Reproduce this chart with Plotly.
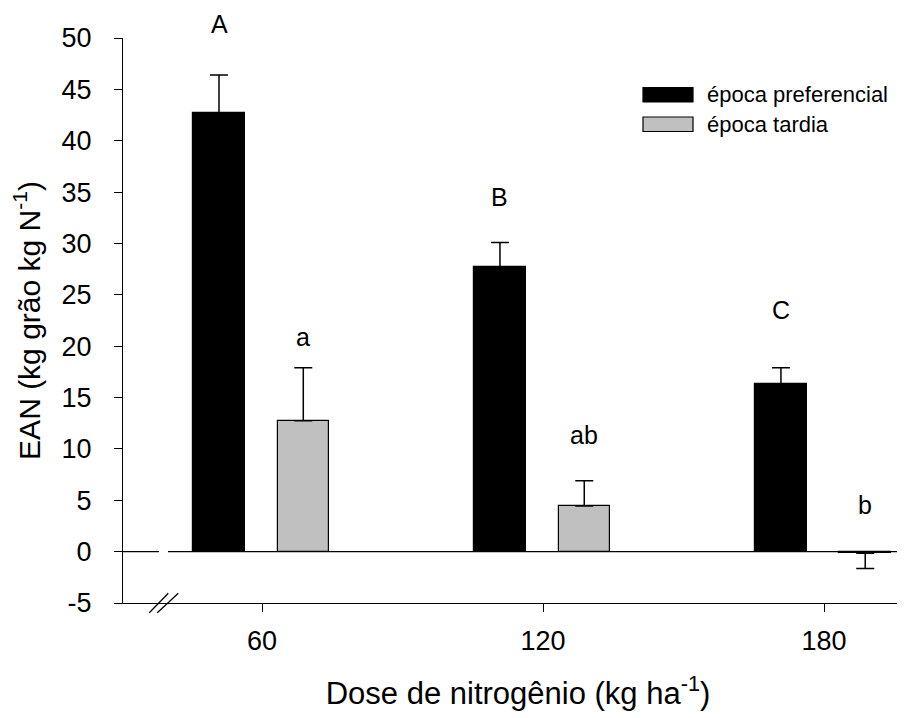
import plotly.graph_objects as go

# ---- data ----
doses = [60, 120, 180]
series_names = ["época preferencial", "época tardia"]
pref_values = [42.7, 27.7, 16.3]
pref_errors = [3.7, 2.4, 1.6]
tard_values = [12.75, 4.44, -0.15]
tard_errors = [5.15, 2.46, 1.5]
pref_letters = ["A", "B", "C"]
tard_letters = ["a", "ab", "b"]
pref_letter_y = [51.4, 34.55, 23.5]
tard_letter_y = [20.9, 11.35, 4.5]
y_ticks = [-5, 0, 5, 10, 15, 20, 25, 30, 35, 40, 45, 50]
x_ticks = [60, 120, 180]

FONT = "Liberation Sans, Arial, sans-serif"
BAR_W = 11
PREF_OFF = -14.7
TARD_OFF = 3.3
X_RANGE = [30.3, 199.0]
Y_RANGE = [-5, 50]

PAGE_OFF = 8  # body margin of the html page
W, H = 905, 718
L, R, T, B = 115, 0, 30, 123
PW, PH = W - L - R, H - T - B
SCR_L = PAGE_OFF + L          # plot left edge on screen
SCR_B = PAGE_OFF + T + PH     # plot bottom edge on screen


def px_x(px):
    return (px - SCR_L) / PW


def px_y(py):
    return (SCR_B - py) / PH


def ydom(v):
    return (v - Y_RANGE[0]) / (Y_RANGE[1] - Y_RANGE[0])


def err_arrays(vals, errs):
    plus = [e if v >= 0 else 0 for v, e in zip(vals, errs)]
    minus = [e if v < 0 else 0 for v, e in zip(vals, errs)]
    return plus, minus


fig = go.Figure()
for name, vals, errs, off, color in [
    (series_names[0], pref_values, pref_errors, PREF_OFF, "#000000"),
    (series_names[1], tard_values, tard_errors, TARD_OFF, "#c0c0c0"),
]:
    plus, minus = err_arrays(vals, errs)
    fig.add_trace(go.Bar(
        x=doses, y=vals, name=name, offset=off, width=BAR_W,
        marker=dict(color=color, line=dict(color="#000000", width=1.2)),
        error_y=dict(type="data", symmetric=False, array=plus, arrayminus=minus,
                     color="#000000", thickness=1.5, width=9),
        showlegend=False,
    ))

annotations = []
for letters, ys, off in [(pref_letters, pref_letter_y, PREF_OFF),
                         (tard_letters, tard_letter_y, TARD_OFF)]:
    for d, t, yv in zip(doses, letters, ys):
        annotations.append(dict(x=d + off + BAR_W / 2, y=ydom(yv), xref="x", yref="y domain",
                                text=t, showarrow=False, yanchor="middle",
                                font=dict(family=FONT, size=25, color="#000")))

# custom legend
shapes = []
leg_boxes = [(87.5, 102.0, "#000000"), (117.0, 131.5, "#c0c0c0")]
for (y0, y1, c), name in zip(leg_boxes, series_names):
    shapes.append(dict(type="rect", xref="paper", yref="paper",
                       x0=px_x(643), x1=px_x(693), y0=px_y(y1), y1=px_y(y0),
                       fillcolor=c, line=dict(color="#000", width=1.2)))
    annotations.append(dict(x=px_x(705), y=px_y((y0 + y1) / 2), xref="paper", yref="paper",
                            text=name, showarrow=False, xanchor="left", yanchor="middle",
                            font=dict(family=FONT, size=22, color="#000")))

# broken zero line
x_break0 = X_RANGE[0] + px_x(159) * (X_RANGE[1] - X_RANGE[0])
x_break1 = X_RANGE[0] + px_x(168) * (X_RANGE[1] - X_RANGE[0])
for xa, xb in [(X_RANGE[0], x_break0), (x_break1, X_RANGE[1])]:
    shapes.append(dict(type="line", xref="x", yref="y", x0=xa, x1=xb, y0=0, y1=0,
                       line=dict(color="#000", width=1.2), layer="above"))

# axis break marks "//"
for xa, xb in [(149.3, 168.3), (157.3, 178.3)]:
    shapes.append(dict(type="line", xref="paper", yref="paper",
                       x0=px_x(xa), x1=px_x(xb), y0=px_y(612.7), y1=px_y(593.3),
                       line=dict(color="#000", width=1.3)))

fig.update_layout(
    width=W, height=H,
    margin=dict(l=L, r=R, t=T, b=B, autoexpand=False),
    paper_bgcolor="white", plot_bgcolor="white",
    font=dict(family=FONT, color="#000"),
    shapes=shapes, annotations=annotations,
    bargap=0,
)
fig.update_xaxes(
    range=X_RANGE, tickvals=x_ticks, ticktext=[str(v) for v in x_ticks],
    showgrid=False, zeroline=False, showline=True, linecolor="#000", linewidth=1.2,
    ticks="outside", ticklen=8, tickwidth=1.2, tickcolor="#000", automargin=False,
    tickfont=dict(family=FONT, size=27), ticklabelstandoff=5,
    title=dict(text="Dose de nitrogênio (kg ha<sup>-1</sup>)", font=dict(family=FONT, size=31),
               standoff=27),
)
fig.update_yaxes(
    range=Y_RANGE, tickvals=y_ticks, ticktext=[str(v) for v in y_ticks],
    showgrid=False, zeroline=False, showline=True, linecolor="#000", linewidth=1.2,
    ticks="outside", ticklen=8, tickwidth=1.2, tickcolor="#000", automargin=False,
    tickfont=dict(family=FONT, size=27), ticklabelstandoff=17,
    title=dict(text="EAN (kg grão kg N<sup>-1</sup>)", font=dict(family=FONT, size=30),
               standoff=18),
)

fig.write_html("out.html")
